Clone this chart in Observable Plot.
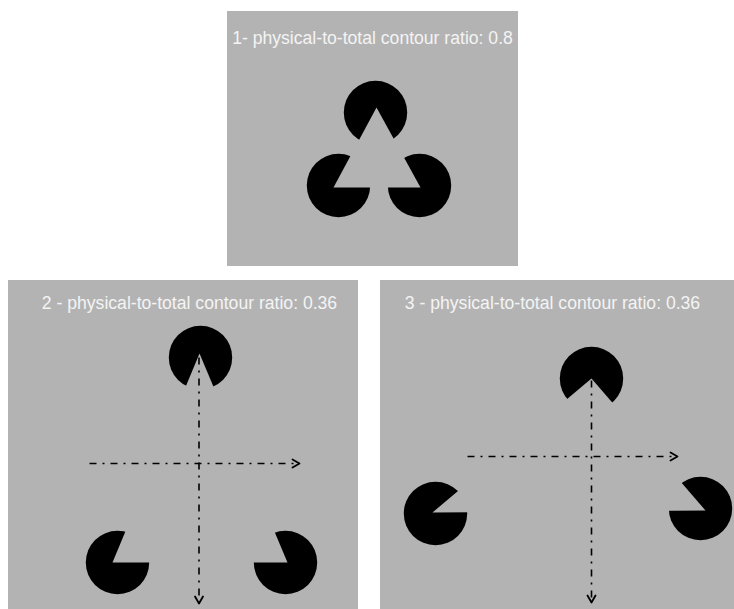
<!DOCTYPE html>
<html>
<head>
<meta charset="utf-8">
<script src="https://cdn.jsdelivr.net/npm/d3@7"></script>
<script src="https://cdn.jsdelivr.net/npm/@observablehq/plot@0.6"></script>
<style>
  html, body { margin: 0; padding: 0; background: #ffffff; }
  #chart svg { display: block; }
</style>
</head>
<body>
<div id="chart"></div>
<script>
// ---- Data (pixel-space coordinates of the illustration) ----
const panelIds = [1, 2, 3];
const panelX1 = [227, 8, 380];
const panelX2 = [518, 358, 734];
const panelY1 = [11, 280, 280];
const panelY2 = [266, 609, 609];

const titles = [
  "1- physical-to-total contour ratio: 0.8",
  "2 - physical-to-total contour ratio: 0.36",
  "3 - physical-to-total contour ratio: 0.36"
];
const titleX = [372, 189, 552];
const titleY = [43, 308, 308];

// inducer discs (pac-men) centers
const inducerPanel = [1, 1, 1, 2, 2, 2, 3, 3, 3];
const inducerX = [375, 338, 419, 200, 117, 285, 591, 435, 700];
const inducerY = [112, 185, 185, 357, 562, 562, 378, 513, 508];

// illusory triangle vertices (cut wedges) per panel
const trianglePanel = [1, 1, 1, 2, 2, 2, 3, 3, 3];
const triangleX = [376, 333, 420, 199, 112, 287, 591, 432, 705];
const triangleY = [107, 187, 187, 353, 562, 562, 378, 512, 510];

// dash-dot axes arrows (panels 2 and 3)
const arrowPanel = [2, 2, 3, 3];
const arrowX1 = [198.5, 89, 591, 467];
const arrowY1 = [357, 463, 380, 456];
const arrowX2 = [198.5, 299, 591, 677];
const arrowY2 = [603, 463, 602, 456];

// ---- Build tables ----
const panels = panelIds.map((p, i) => ({panel: p, x1: panelX1[i], x2: panelX2[i], y1: panelY1[i], y2: panelY2[i], title: titles[i], tx: titleX[i], ty: titleY[i]}));
const inducers = inducerPanel.map((p, i) => ({panel: p, x: inducerX[i], y: inducerY[i]}));
const triangles = trianglePanel.map((p, i) => ({panel: p, x: triangleX[i], y: triangleY[i]}));
const arrows = arrowPanel.map((p, i) => ({panel: p, x1: arrowX1[i], y1: arrowY1[i], x2: arrowX2[i], y2: arrowY2[i]}));

// arrowhead chevrons derived from arrow ends
const headLen = 7, headHalf = 4;
const heads = arrows.flatMap((a, i) => {
  const dx = a.x2 - a.x1, dy = a.y2 - a.y1, L = Math.hypot(dx, dy);
  const ux = dx / L, uy = dy / L, nx = -uy, ny = ux;
  return [
    {id: i, x: a.x2 - headLen * ux + headHalf * nx, y: a.y2 - headLen * uy + headHalf * ny},
    {id: i, x: a.x2, y: a.y2},
    {id: i, x: a.x2 - headLen * ux - headHalf * nx, y: a.y2 - headLen * uy - headHalf * ny}
  ];
});

const gray = "#b3b3b3";

const chart = Plot.plot({
  width: 734,
  height: 609,
  margin: 0,
  x: {domain: [0, 734], axis: null},
  y: {domain: [0, 609], reverse: true, axis: null},
  style: {background: "#ffffff"},
  marks: [
    Plot.rect(panels, {x1: "x1", x2: "x2", y1: "y1", y2: "y2", fill: gray}),
    Plot.text(panels, {x: "tx", y: "ty", text: "title", fill: "#f4f4f4", fontSize: 17.6, fontFamily: "Liberation Sans, Arial, sans-serif", textAnchor: "middle", lineAnchor: "bottom"}),
    Plot.dot(inducers, {x: "x", y: "y", r: 31.7, fill: "#000000", stroke: "none"}),
    Plot.line(triangles, {x: "x", y: "y", z: "panel", fill: gray, stroke: "none", curve: "linear-closed"}),
    Plot.link(arrows, {x1: "x1", y1: "y1", x2: "x2", y2: "y2", stroke: "#000000", strokeWidth: 1.6, strokeDasharray: "7,6,2,6"}),
    Plot.line(heads, {x: "x", y: "y", z: "id", stroke: "#000000", strokeWidth: 1.8, fill: "none"})
  ]
});

document.getElementById("chart").appendChild(chart);
</script>
</body>
</html>
